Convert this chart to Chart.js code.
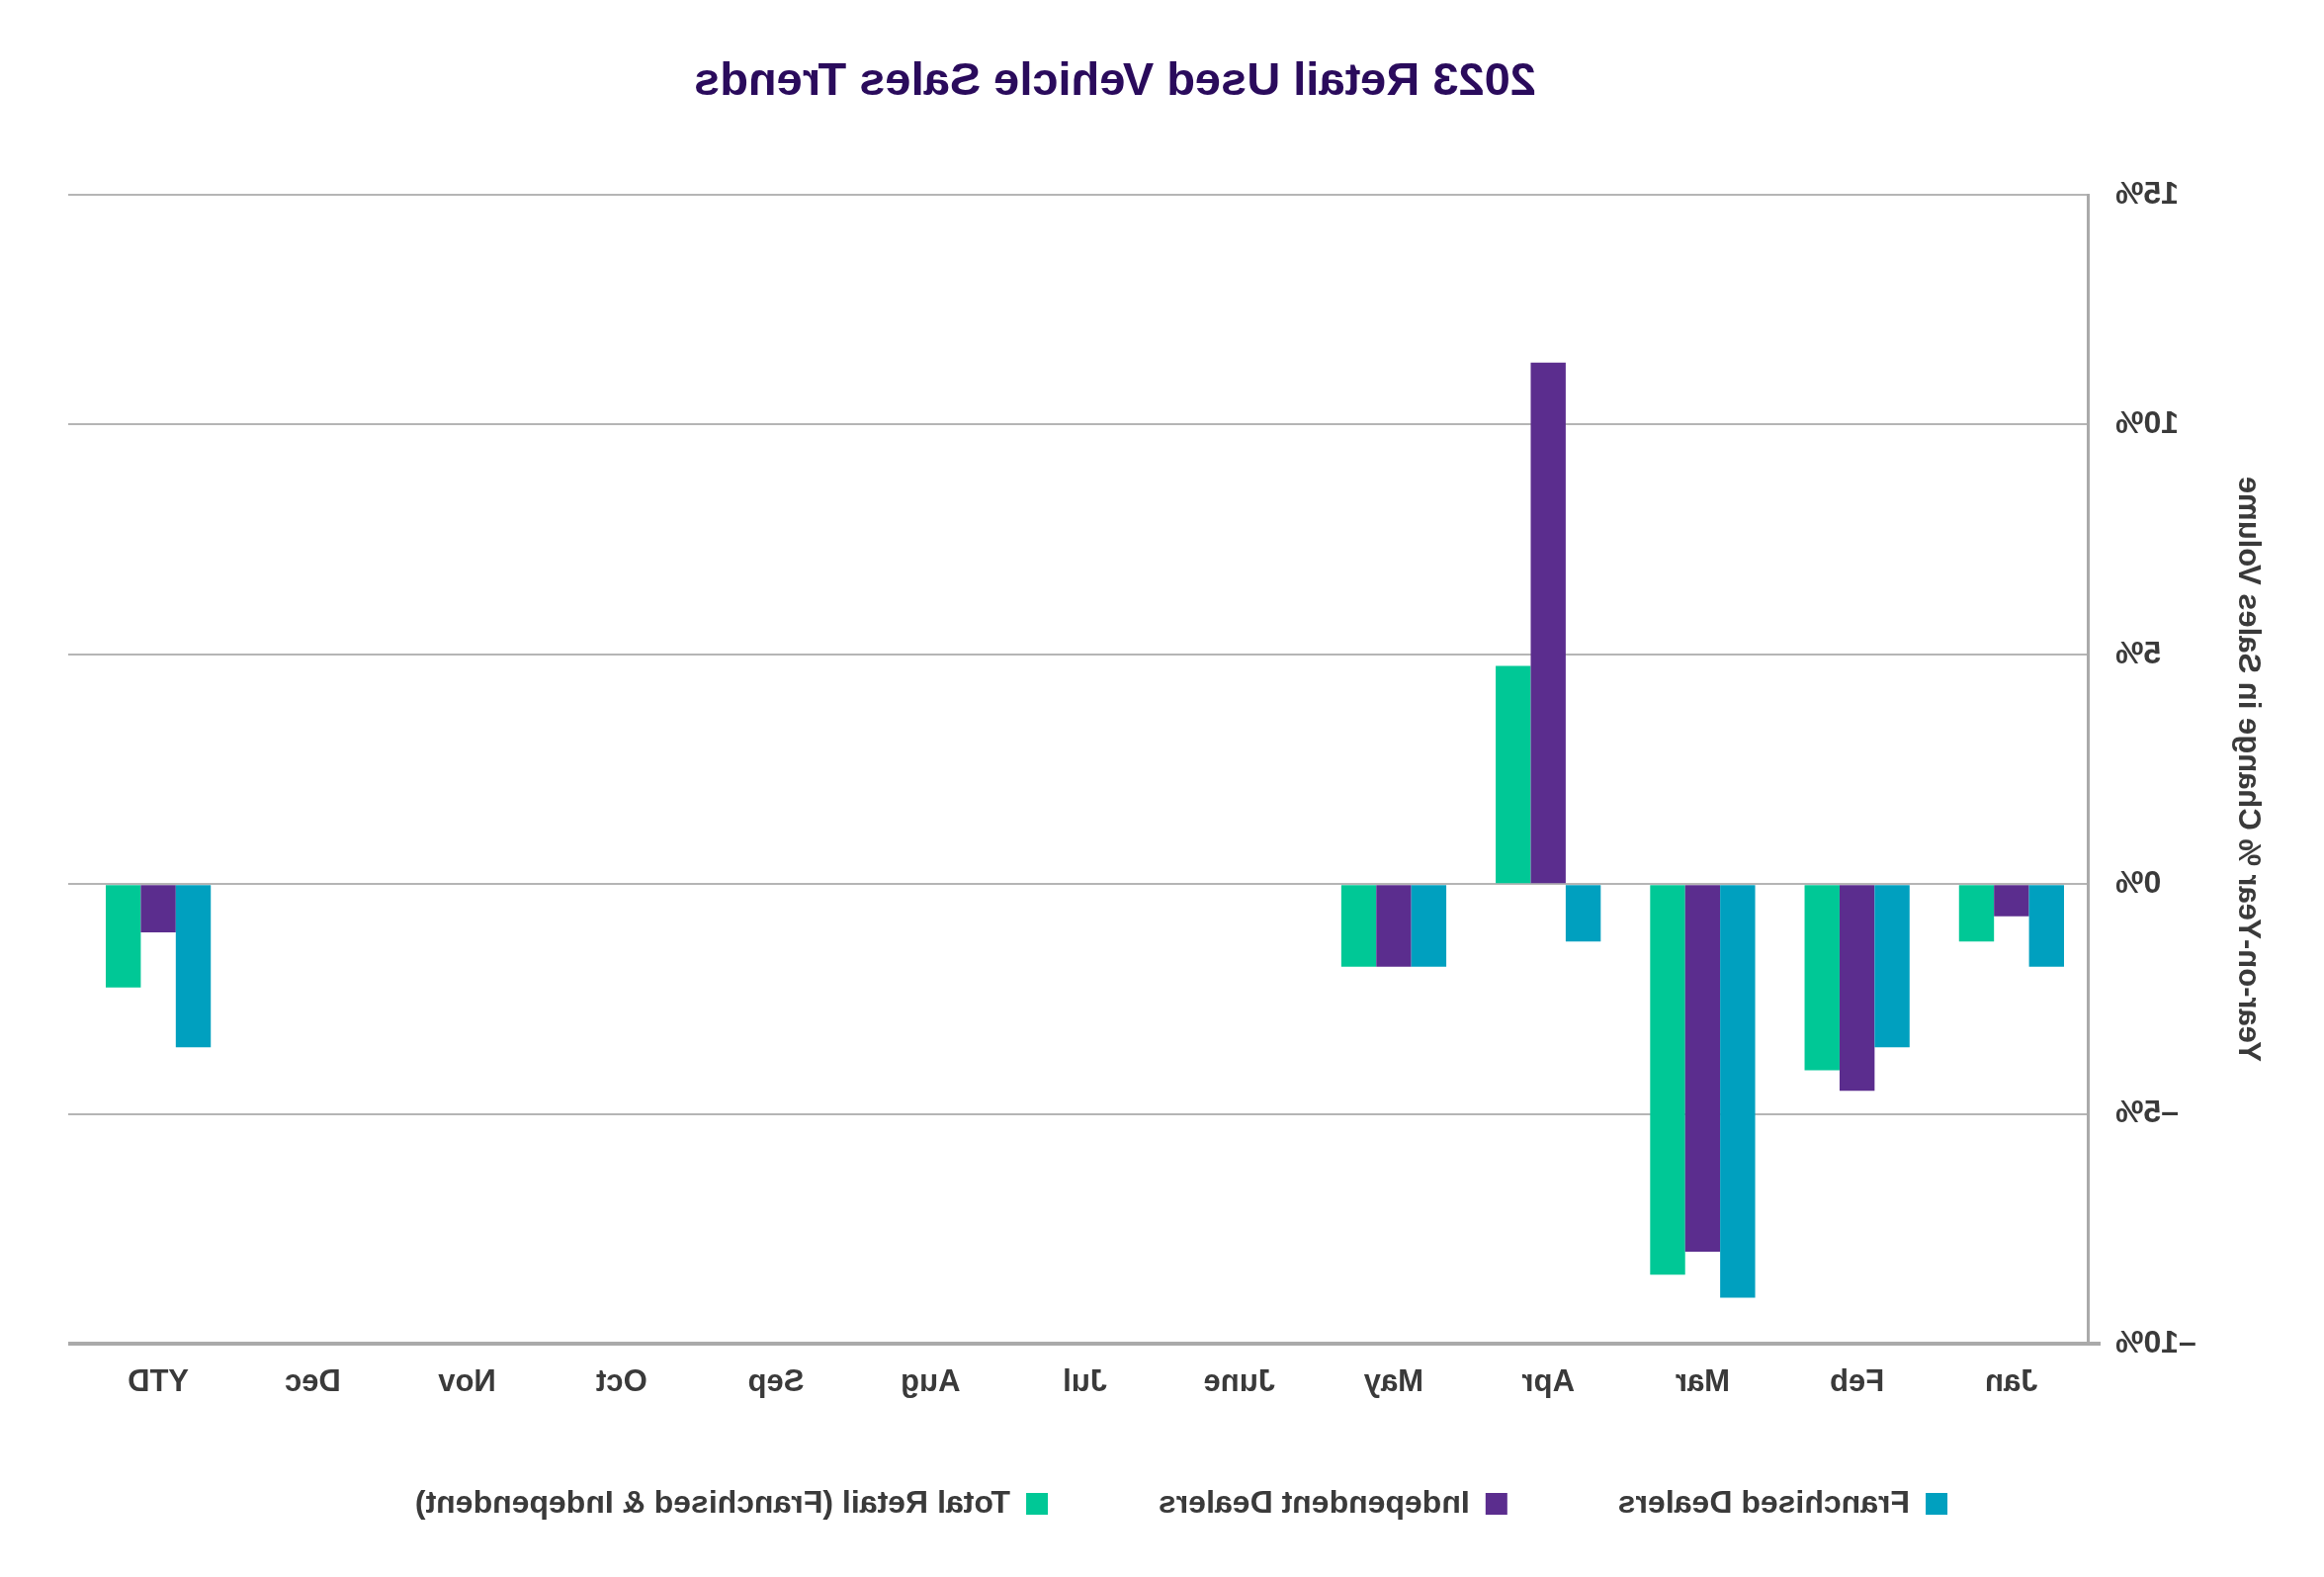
<!DOCTYPE html>
<html>
<head>
<meta charset="utf-8">
<script src="https://cdn.jsdelivr.net/npm/chart.js@4"></script>
<style>
  html, body { margin: 0; padding: 0; background: #ffffff; }
  #wrap { position: relative; width: 2351px; height: 1595px; transform: scaleX(-1); transform-origin: 50% 50%; overflow: hidden; }
  #title { position: absolute; top: 52px; left: 1223px; transform: translateX(-50%); white-space: nowrap;
           font-family: "Liberation Sans", Arial, sans-serif; font-weight: bold; font-size: 47px; line-height: 56px; color: #2a0b5c; }
  canvas { position: absolute; left: 0; top: 0; }
</style>
</head>
<body>
<div id="wrap">
  <canvas id="c" width="2351" height="1595"></canvas>
  <div id="title">2023 Retail Used Vehicle Sales Trends</div>
</div>
<script>
const categories = ['Jan', 'Feb', 'Mar', 'Apr', 'May', 'June', 'Jul', 'Aug', 'Sep', 'Oct', 'Nov', 'Dec', 'YTD'];
const franchisedDealers = [-1.8, -3.55, -9.0, -1.25, -1.8, null, null, null, null, null, null, null, -3.55];
const independentDealers = [-0.7, -4.5, -8.0, 11.35, -1.8, null, null, null, null, null, null, null, -1.05];
const totalRetail = [-1.25, -4.05, -8.5, 4.75, -1.8, null, null, null, null, null, null, null, -2.25];
const seriesNames = ['Franchised Dealers', 'Independent Dealers', 'Total Retail (Franchised & Independent)'];
const yTicks = [-10, -5, 0, 5, 10, 15];
const yTitle = 'Year-on-Year % Change in Sales Volume';

const FONT = '"Liberation Sans", Arial, sans-serif';
const TEXT = '#3a3a3a';
const GRID = '#b5b5b5';
const AXIS = '#aaaaaa';

// move the legend row to its place in the reference
const legendShift = {
  id: 'legendShift',
  afterLayout(chart) {
    const l = chart.legend;
    if (l) { l.top -= 26; l.bottom -= 26; l.left -= 8; l.right -= 8; }
  }
};

// gridlines run a little past the last category; the base line runs a little past the y axis
const gridExtend = {
  id: 'gridExtend',
  afterDatasetsDraw(chart) {
    const { ctx, chartArea: a, scales: { y } } = chart;
    ctx.save();
    ctx.strokeStyle = GRID;
    ctx.lineWidth = 2;
    yTicks.slice(1).forEach(v => {
      const py = Math.round(y.getPixelForValue(v));
      ctx.beginPath(); ctx.moveTo(a.right, py); ctx.lineTo(a.right + 13, py); ctx.stroke();
    });
    const pb = y.getPixelForValue(yTicks[0]);
    ctx.strokeStyle = AXIS;
    ctx.lineWidth = 4;
    ctx.beginPath(); ctx.moveTo(a.left - 12, pb); ctx.lineTo(a.right + 13, pb); ctx.stroke();
    ctx.restore();
  }
};

new Chart(document.getElementById('c'), {
  type: 'bar',
  data: {
    labels: categories,
    datasets: [
      { label: seriesNames[0], data: franchisedDealers, backgroundColor: '#00a0bf' },
      { label: seriesNames[1], data: independentDealers, backgroundColor: '#5b2d8e' },
      { label: seriesNames[2], data: totalRetail, backgroundColor: '#00c896' }
    ]
  },
  plugins: [legendShift, gridExtend],
  options: {
    responsive: false,
    animation: false,
    devicePixelRatio: 1,
    layout: { padding: { left: 59, right: 82, top: 197, bottom: 22 } },
    datasets: { bar: { categoryPercentage: 0.68, barPercentage: 1.0, borderWidth: 0 } },
    plugins: {
      title: { display: false },
      tooltip: { enabled: false },
      legend: {
        position: 'bottom',
        labels: {
          boxWidth: 22, boxHeight: 22, padding: 112, color: TEXT,
          font: { family: FONT, size: 32, weight: 'bold' }
        }
      }
    },
    scales: {
      x: {
        grid: { display: true, drawOnChartArea: false, drawTicks: false },
        border: { display: true, color: AXIS, width: 4 },
        ticks: { color: TEXT, font: { family: FONT, size: 31, weight: 'bold' }, padding: 21, maxRotation: 0 },
        afterFit: s => { s.height = 60; }
      },
      y: {
        min: yTicks[0], max: yTicks[yTicks.length - 1],
        afterBuildTicks: s => { s.ticks = yTicks.map(v => ({ value: v })); },
        grid: { color: GRID, lineWidth: 2, drawTicks: false },
        border: { display: true, color: AXIS, width: 3 },
        ticks: {
          color: TEXT, font: { family: FONT, size: 32, weight: 'bold' }, padding: 27,
          callback: v => (v < 0 ? '\u2013' + Math.abs(v) : v) + '%'
        },
        title: {
          display: true, text: yTitle, color: TEXT,
          font: { family: FONT, size: 31, weight: 'bold' }, padding: { top: 0, bottom: 0 }
        },
        afterFit: s => { s.width = 179; }
      }
    }
  }
});
</script>
</body>
</html>
